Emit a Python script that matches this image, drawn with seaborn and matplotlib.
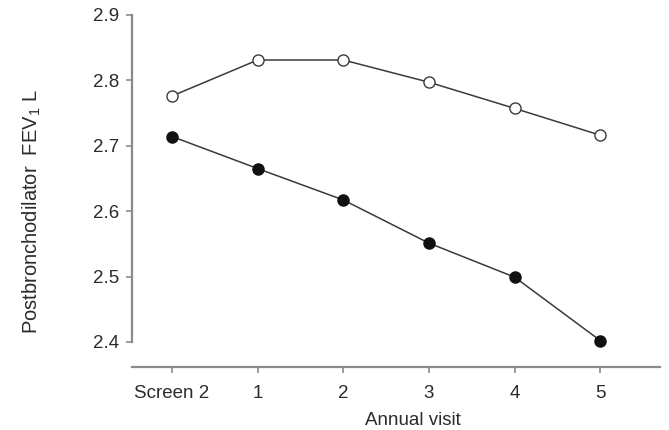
import matplotlib
matplotlib.use("Agg")
import matplotlib.pyplot as plt
import seaborn as sns
import numpy as np
import pandas as pd

# visits on the x axis
visits = ['Screen 2', '1', '2', '3', '4', '5']

# postbronchodilator FEV1 (L)
open_group = [2.776, 2.831, 2.831, 2.797, 2.757, 2.716]
filled_group = [2.714, 2.665, 2.617, 2.551, 2.499, 2.402]

y_ticks = [2.4, 2.5, 2.6, 2.7, 2.8, 2.9]

sns.set_theme(style="ticks")
plt.rcParams['font.family'] = ['Liberation Sans', 'DejaVu Sans']
plt.rcParams['mathtext.default'] = 'regular'

grey_txt = '#2b2b2b'
grey_ax = '#8a8a8a'
line_col = '#3a3a3a'

pos = np.arange(len(visits))
df = pd.DataFrame({
    'pos': np.concatenate([pos, pos]),
    'fev': open_group + filled_group,
    'group': ['open'] * len(visits) + ['filled'] * len(visits),
})

fig = plt.figure(figsize=(6.69, 4.30), dpi=100)
ax = fig.add_axes([0.197, 0.147, 0.790, 0.830])

sns.lineplot(data=df[df.group == 'open'], x='pos', y='fev', ax=ax,
             color=line_col, lw=1.1, marker='o', markersize=8,
             markerfacecolor='white', markeredgecolor=line_col,
             markeredgewidth=1.0, zorder=3)
sns.lineplot(data=df[df.group == 'filled'], x='pos', y='fev', ax=ax,
             color=line_col, lw=1.1, marker='o', markersize=8,
             markerfacecolor='#111111', markeredgecolor='#111111',
             markeredgewidth=1.0, zorder=3)

ax.set_xlim(-0.47, 5.70)
ax.set_ylim(2.362, 2.9076)
ax.set_xticks(pos)
ax.set_xticklabels(visits)
ax.set_yticks(y_ticks)
ax.set_yticklabels([f'{v:.1f}' for v in y_ticks])

sns.despine(ax=ax)
ax.spines['left'].set_bounds(2.4, 2.9)
for s in ['left', 'bottom']:
    ax.spines[s].set_color(grey_ax)
    ax.spines[s].set_linewidth(1.6)
ax.tick_params(axis='both', colors=grey_ax, labelcolor=grey_txt,
               labelsize=13.5, length=4, width=1.2, direction='out')
ax.tick_params(axis='x', pad=9)
ax.tick_params(axis='y', pad=5)

ax.set_xlabel('Annual visit', fontsize=13.5, color=grey_txt)
ax.set_ylabel('Postbronchodilator  FEV$_1$ L', fontsize=14.5, color=grey_txt)
ax.xaxis.set_label_coords(0.532, -0.126)
ax.yaxis.set_label_coords(-0.168, 0.434)

fig.savefig('out.png', dpi=100)
